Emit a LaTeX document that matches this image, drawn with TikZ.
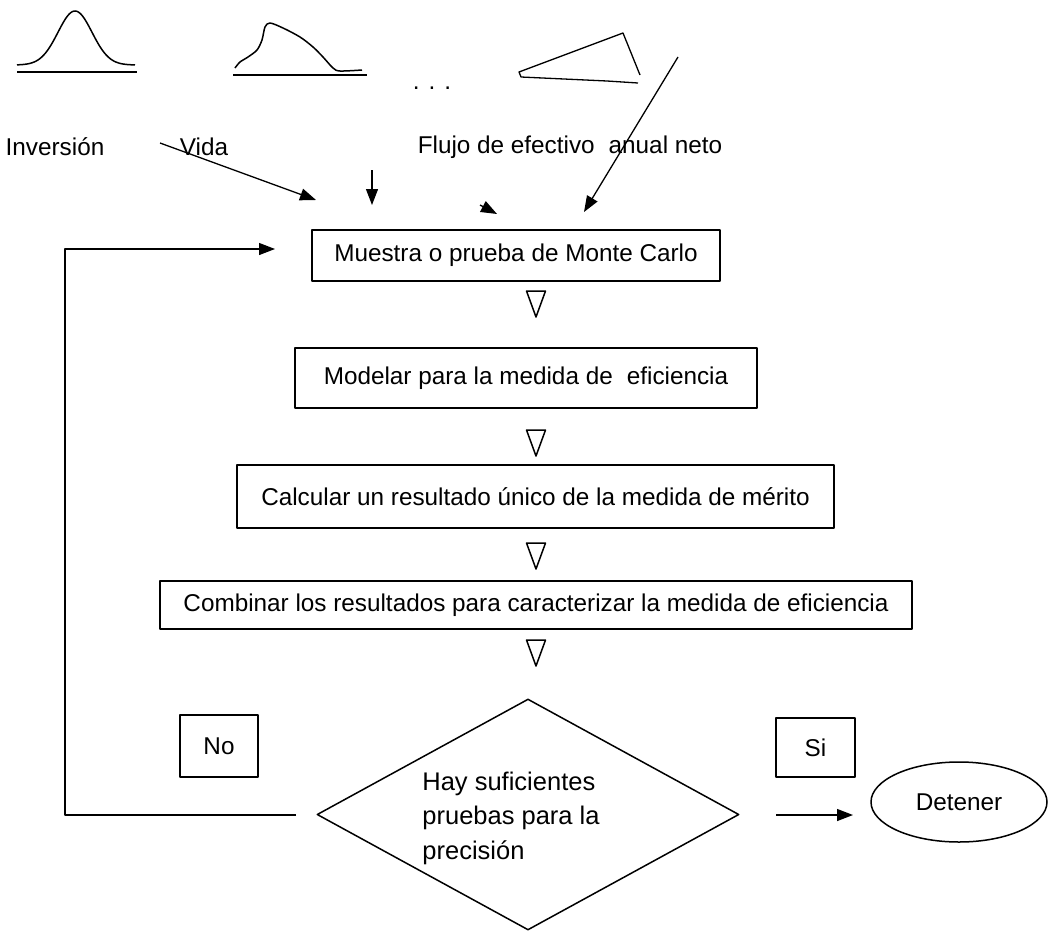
\documentclass[tikz,border=0pt]{standalone}
\usepackage{fontspec}
\setmainfont{Liberation Sans}
\usetikzlibrary{arrows.meta,shapes.geometric}
\begin{document}
\begin{tikzpicture}[x=1pt,y=-1pt,line join=round,
  txt/.style={font=\fontsize{24.3}{29}\selectfont, inner sep=0pt},
  box/.style={txt, draw, line width=1.5pt},
  arr/.style={line width=1.3pt, -{Triangle[length=16pt,width=12pt]}},
  curve/.style={line width=1.5pt},
  nabla/.style={line width=1.5pt}
]
\fill[white] (0,0) rectangle (1049,932);
\useasboundingbox (0,0) rectangle (1049,932);

% input distributions
\draw[curve] plot[domain=17:135, samples=80, smooth] (\x, {65-54*exp(-((\x-75)^2)/(2*17^2))});
\draw[curve] (17,72) -- (137,72);
\draw[curve] plot[smooth, tension=0.5] coordinates {(235,68) (240,62) (248,57) (257,50) (262,40) (265,27) (270,23) (283,28) (300,37) (313,47) (323,57) (333,68) (340,71) (362,70)};
\draw[curve] (233,75) -- (367,75);
\node[txt, anchor=base] (dots) at (432,89) {. . .};
\draw[line width=1.3pt] (640,75) -- (623,33) -- (519,72) -- (521,77) -- (607,81) -- (638,83);

% variable names
\node[txt] (inv) at (55,147) {Inversión};
\node[txt] (vida) at (204,147) {Vida};
\node[txt] (flujo) at (570,147) {Flujo de efectivo\hspace{0.3em} anual neto};

% arrows feeding the sampler
\coordinate (a1s) at (160,143); \coordinate (a1e) at (316,200);
\coordinate (a2s) at (372,170); \coordinate (a2e) at (372,205);
\coordinate (a3s) at (480,205); \coordinate (a3e) at (497,214);
\coordinate (a4s) at (678,57);  \coordinate (a4e) at (584,212);
\draw[arr] (a1s) -- (a1e);
\draw[arr] (a2s) -- (a2e);
\draw[arr] (a3s) -- (a3e);
\draw[arr] (a4s) -- (a4e);

% process steps
\node[box, minimum width=408pt, minimum height=51pt] (s1) at (516,255.5) {Muestra o prueba de Monte Carlo};
\node[box, minimum width=462pt, minimum height=60pt] (s2) at (526,378) {Modelar para la medida de\hspace{0.3em} eficiencia};
\node[box, minimum width=597pt, minimum height=63pt] (s3) at (535.5,496.5) {Calcular un resultado único de la medida de mérito};
\node[box, minimum width=752pt, minimum height=48pt] (s4) at (536,605) {Combinar los resultados para caracterizar la medida de eficiencia};

% flow markers between steps
\foreach \n/\yy in {t1/291, t2/430, t3/543, t4/640} {
  \coordinate (\n) at (536,\yy);
  \draw[nabla] (\n) ++(-9.5,0) -- ++(19,0) -- ++(-9.5,26) -- cycle;
}

% decision
\node[draw, diamond, line width=1.5pt, minimum width=422pt, minimum height=231pt, inner sep=0pt] (dec) at (528,814.5) {};
\node[txt, font=\fontsize{25.5}{34.5}\selectfont, align=left] (dtext) at (511,818) {Hay suficientes\\pruebas para la\\precisión};

\node[box, minimum width=78pt, minimum height=62pt] (no) at (219,746) {No};
\node[box, minimum width=79pt, minimum height=59pt] (si) at (815.5,747.5) {Si};
\node[txt, draw, ellipse, line width=1.5pt, minimum width=176pt, minimum height=80pt] (stop) at (959,802) {Detener};

% yes branch
\coordinate (siS) at (776,815); \coordinate (siE) at (853,815);
\draw[arr] (siS) -- (siE);

% no branch: back to the sampler
\coordinate (fbA) at (296,815);
\coordinate (loop) at (65,249);
\coordinate (fbB) at (275,249);
\draw[arr] (fbA) -| (loop) -- (fbB);
\end{tikzpicture}
\end{document}
